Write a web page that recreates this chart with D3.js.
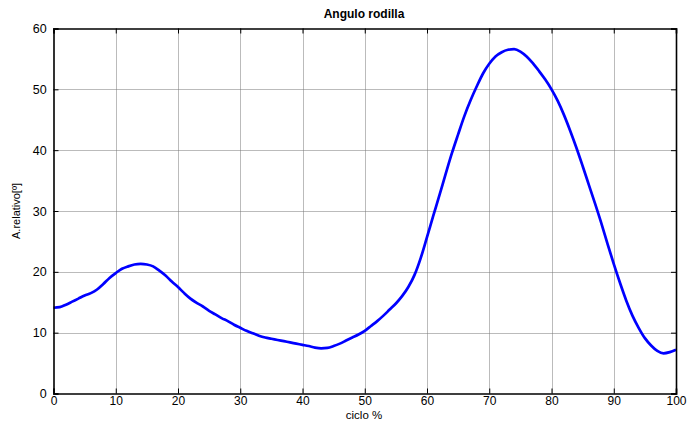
<!DOCTYPE html>
<html><head><meta charset="utf-8">
<script src="https://cdn.jsdelivr.net/npm/d3@7"></script>
<style>body{margin:0;background:#fff}svg{display:block}text{font-family:"Liberation Sans",Arial,sans-serif}</style>
</head><body>
<script>
const title = "Angulo rodilla";
const xLabel = "ciclo %";
const yLabel = "A.relativo[º]";
const xTicks = [0,10,20,30,40,50,60,70,80,90,100];
const yTicks = [0,10,20,30,40,50,60];
const ciclo = d3.range(0,101);
const angulo = [
14.1,14.2,14.6,15.1,15.6,16.1,16.5,17.1,18.0,19.0,
19.8,20.5,20.9,21.2,21.3,21.2,20.9,20.2,19.4,18.4,
17.5,16.5,15.6,14.9,14.3,13.6,13.0,12.4,11.9,11.3,
10.8,10.3,9.9,9.5,9.2,9.0,8.8,8.6,8.4,8.2,
8.0,7.8,7.55,7.43,7.5,7.8,8.2,8.7,9.2,9.7,
10.3,11.1,11.9,12.8,13.8,14.8,16.0,17.5,19.5,22.3,
25.7,29.2,32.6,36.1,39.5,42.6,45.6,48.2,50.5,52.6,
54.2,55.4,56.1,56.5,56.6,56.2,55.4,54.3,53.0,51.6,
50.0,48.1,45.8,43.2,40.4,37.4,34.3,31.2,28.0,24.6,
21.3,18.2,15.3,12.8,10.8,9.1,7.9,7.0,6.6,6.8,7.2];

const W=687,H=421;
const m={l:53.5,t:28.5,r:676,b:393.5};
const svg=d3.select("body").append("svg").attr("width",W).attr("height",H);
const x=d3.scaleLinear().domain([0,100]).range([m.l,m.r]);
const y=d3.scaleLinear().domain([0,60]).range([m.b,m.t]);

// grid
const g=svg.append("g");
g.selectAll(".gx").data(xTicks.slice(1,-1)).join("line")
 .attr("x1",d=>Math.round(x(d))+0.5).attr("x2",d=>Math.round(x(d))+0.5).attr("y1",m.t).attr("y2",m.b)
 .attr("stroke","#777").attr("stroke-width",1).attr("stroke-dasharray","1,1");
g.selectAll(".gy").data(yTicks.slice(1,-1)).join("line")
 .attr("y1",d=>Math.round(y(d))+0.5).attr("y2",d=>Math.round(y(d))+0.5).attr("x1",m.l).attr("x2",m.r)
 .attr("stroke","#777").attr("stroke-width",1).attr("stroke-dasharray","1,1");

// line
svg.append("path").datum(ciclo.map((c,i)=>[c,angulo[i]]))
 .attr("fill","none").attr("stroke","#0000ff").attr("stroke-width",2.7).attr("stroke-linejoin","round")
 .attr("d",d3.line().x(d=>x(d[0])).y(d=>y(d[1])).curve(d3.curveMonotoneX));

// axes
const ax=svg.append("g").attr("transform",`translate(0,${m.b})`)
 .call(d3.axisBottom(x).tickValues(xTicks).tickSize(-5).tickPadding(3));
const axT=svg.append("g").attr("transform",`translate(0,${m.t})`)
 .call(d3.axisTop(x).tickValues(xTicks).tickSize(-5).tickFormat(""));
const ay=svg.append("g").attr("transform",`translate(${m.l},0)`)
 .call(d3.axisLeft(y).tickValues(yTicks).tickSize(-5).tickPadding(8));
const ayR=svg.append("g").attr("transform",`translate(${m.r},0)`)
 .call(d3.axisRight(y).tickValues(yTicks).tickSize(-5).tickFormat(""));
[ax,axT,ay,ayR].forEach(a=>{
 a.select(".domain").attr("stroke","#000").attr("stroke-width",1.6);
 a.selectAll(".tick line").attr("stroke","#000");
 a.selectAll("text").attr("font-size",12.5).attr("fill","#000").attr("font-family","Liberation Sans, Arial, sans-serif");
});
ax.selectAll(".tick text").attr("font-size",12);
ay.selectAll(".tick text").attr("dx","0.1em");

svg.append("text").attr("x",364).attr("y",418.5).attr("text-anchor","middle")
 .attr("font-size",11.5).text(xLabel);
svg.append("text").attr("x",364).attr("y",18).attr("text-anchor","middle")
 .attr("font-size",12).attr("font-weight","bold").text(title);
svg.append("text").attr("transform","translate(20,211) rotate(-90)").attr("text-anchor","middle")
 .attr("font-size",11).text(yLabel);
</script>
</body></html>
